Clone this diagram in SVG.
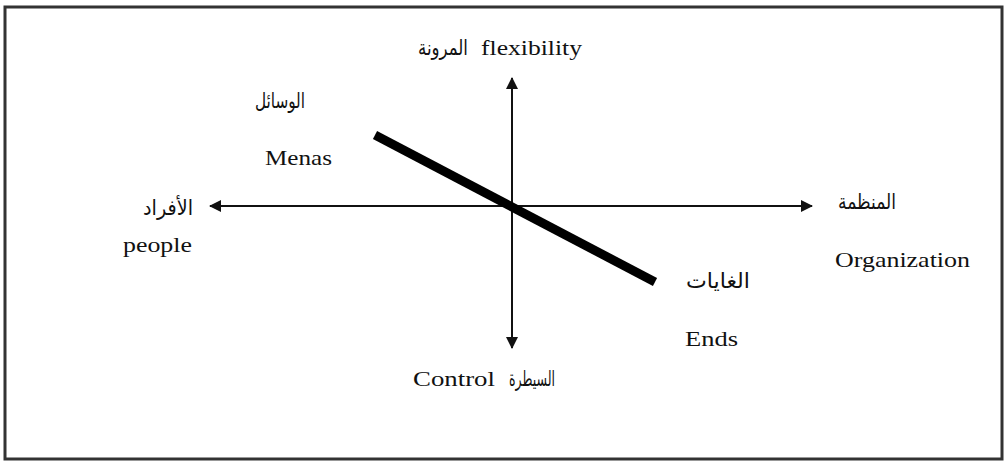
<svg xmlns="http://www.w3.org/2000/svg" width="1006" height="462" viewBox="0 0 1006 462">
<style>
.t{font-family:"Liberation Serif","DejaVu Serif",serif;font-size:21px;fill:#111}
.ar{font-family:"DejaVu Sans","Liberation Serif",serif;font-size:21px;fill:#111}
.ax{stroke:#111;stroke-width:2;fill:none}
</style>
<defs>
<marker id="ah" viewBox="0 0 12 12" refX="11" refY="6" markerWidth="12" markerHeight="12" markerUnits="userSpaceOnUse" orient="auto">
<path d="M0,0 L12,6 L0,12 Z" fill="#111"/>
</marker>
</defs>
<rect x="0" y="0" width="1006" height="462" fill="#fff"/>
<rect x="5" y="7" width="997" height="452" fill="none" stroke="#333" stroke-width="3"/>
<g id="connectors">
<line class="ax" x1="512" y1="206" x2="512" y2="78" marker-end="url(#ah)"/>
<line class="ax" x1="512" y1="206" x2="512" y2="348" marker-end="url(#ah)"/>
<line class="ax" x1="512" y1="206" x2="210" y2="206" marker-end="url(#ah)"/>
<line class="ax" x1="512" y1="206" x2="812" y2="206" marker-end="url(#ah)"/>
<line x1="375" y1="135" x2="655" y2="282" stroke="#000" stroke-width="9"/>
</g>
<g id="top">
<text class="ar" x="418" y="55" textLength="50" lengthAdjust="spacingAndGlyphs">المرونة</text>
<text class="t" x="481" y="55" textLength="101" lengthAdjust="spacingAndGlyphs">flexibility</text>
</g>
<g id="means">
<text class="ar" x="255" y="108" textLength="50" lengthAdjust="spacingAndGlyphs">الوسائل</text>
<text class="t" x="265" y="165" textLength="67" lengthAdjust="spacingAndGlyphs">Menas</text>
</g>
<g id="people">
<text class="ar" x="143" y="215" textLength="50" lengthAdjust="spacingAndGlyphs">الأفراد</text>
<text class="t" x="123" y="252" textLength="69" lengthAdjust="spacingAndGlyphs">people</text>
</g>
<g id="organization">
<text class="ar" x="838" y="209" textLength="58" lengthAdjust="spacingAndGlyphs">المنظمة</text>
<text class="t" x="835" y="267" textLength="135" lengthAdjust="spacingAndGlyphs">Organization</text>
</g>
<g id="ends">
<text class="ar" x="686" y="288" textLength="64" lengthAdjust="spacingAndGlyphs">الغايات</text>
<text class="t" x="685" y="346" textLength="53" lengthAdjust="spacingAndGlyphs">Ends</text>
</g>
<g id="bottom">
<text class="t" x="413" y="386" textLength="82" lengthAdjust="spacingAndGlyphs">Control</text>
<text class="ar" x="509" y="386" textLength="46" lengthAdjust="spacingAndGlyphs">السيطرة</text>
</g>
</svg>
